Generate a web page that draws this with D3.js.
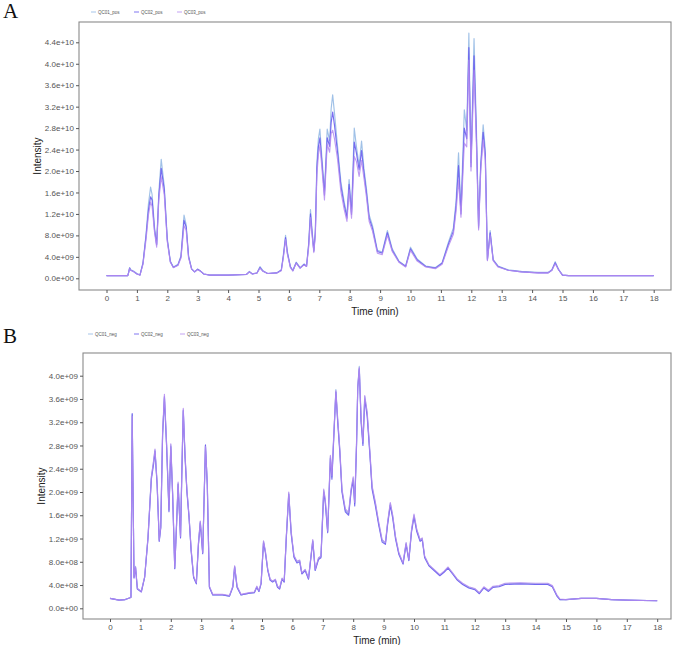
<!DOCTYPE html>
<html lang="en">
<head>
<meta charset="UTF-8">
<title>QC TIC chromatograms</title>
<script src="https://d3js.org/d3.v7.min.js"></script>
<style>
    body { margin: 0; background: #fff; }
</style>
</head>
<body>
<script>
var seriesNames = ['QC01', 'QC02', 'QC03'];
var colors = ['#8fb6e3', '#6153ee', '#b48bf0'];

// panel A, positive mode: time (min), intensity in units of 1e9
var timeA = [0, 0.7, 0.73, 0.76, 0.8, 0.9, 1.0, 1.1, 1.2, 1.3, 1.38, 1.45, 1.5, 1.58, 1.65, 1.72, 1.8, 1.9, 2.0, 2.1,
    2.2, 2.35, 2.45, 2.55, 2.62, 2.7, 2.8, 2.9, 3.0, 3.1, 3.2, 3.4, 4.0, 4.6, 4.7, 4.8, 4.95, 5.05, 5.15, 5.3,
    5.6, 5.75, 5.82, 5.89, 5.95, 6.05, 6.13, 6.24, 6.37, 6.5, 6.58, 6.65, 6.71, 6.77, 6.82, 6.87, 6.92, 6.97, 7.02, 7.08,
    7.17, 7.26, 7.34, 7.39, 7.44, 7.5, 7.6, 7.71, 7.82, 7.91, 7.98, 8.06, 8.15, 8.22, 8.31, 8.39, 8.47, 8.55, 8.64, 8.75,
    8.91, 9.07, 9.24, 9.4, 9.62, 9.84, 10.0, 10.22, 10.5, 10.82, 11.04, 11.25, 11.41, 11.5, 11.58, 11.66, 11.77, 11.85, 11.92, 11.99,
    12.09, 12.17, 12.24, 12.31, 12.39, 12.46, 12.53, 12.62, 12.72, 12.88, 13.21, 13.65, 14.2, 14.52, 14.65, 14.76, 14.87, 15.0, 15.2, 16,
    17, 18];
var posQC01 = [0.5, 0.5, 1.2, 2.0, 1.6, 1.3, 0.9, 0.6, 2.9, 8.2, 13.9, 17.0, 15.6, 9.5, 6.4, 16.0, 22.2, 17.2, 7.4, 3.2,
    2.1, 2.6, 4.2, 11.8, 10.0, 4.2, 1.8, 1.2, 1.7, 1.3, 0.8, 0.6, 0.6, 0.7, 1.3, 0.8, 1.0, 2.2, 1.4, 0.9,
    1.0, 1.6, 4.5, 8.0, 5.0, 2.2, 1.5, 3.0, 2.0, 2.7, 2.3, 6.5, 12.8, 8.5, 5.2, 9.0, 21.6, 26.0, 27.8, 23.0,
    16.2, 27.8, 25.6, 31.6, 34.2, 30.8, 24.6, 18.0, 14.2, 11.8, 18.4, 12.4, 28.0, 24.6, 21.0, 25.6, 20.4, 16.8, 11.8, 9.8,
    5.2, 4.9, 8.9, 5.5, 3.2, 2.3, 5.8, 3.6, 2.3, 2.0, 2.9, 6.8, 9.4, 14.5, 23.4, 12.6, 31.4, 27.6, 45.7, 21.6,
    44.7, 27.6, 9.8, 21.6, 28.6, 24.0, 3.6, 8.9, 3.5, 2.3, 1.6, 1.3, 1.1, 1.1, 1.6, 3.1, 1.7, 0.6, 0.5, 0.5,
    0.5, 0.5];
var posQC02 = [0.5, 0.5, 1.1, 1.9, 1.5, 1.2, 0.8, 0.6, 2.8, 7.8, 12.7, 15.2, 14.6, 9.0, 6.2, 15.2, 20.5, 16.5, 7.1, 3.1,
    2.0, 2.5, 4.0, 10.8, 9.6, 4.0, 1.7, 1.2, 1.7, 1.3, 0.8, 0.6, 0.6, 0.7, 1.2, 0.8, 1.0, 2.0, 1.3, 0.9,
    1.0, 1.5, 4.2, 7.6, 4.7, 2.1, 1.4, 2.9, 1.9, 2.6, 2.2, 6.2, 12.0, 8.0, 5.0, 8.5, 20.4, 24.5, 26.2, 22.0,
    15.5, 26.2, 24.6, 29.0, 31.0, 28.5, 23.5, 17.2, 13.6, 11.2, 17.5, 11.9, 25.4, 23.4, 20.2, 23.8, 19.6, 16.0, 11.2, 9.3,
    5.0, 4.7, 8.5, 5.2, 3.1, 2.2, 5.5, 3.4, 2.2, 1.9, 2.8, 6.4, 8.8, 13.5, 21.0, 12.0, 28.0, 26.0, 43.0, 20.8,
    41.5, 26.0, 9.4, 20.8, 27.2, 23.0, 3.4, 8.5, 3.4, 2.2, 1.5, 1.2, 1.0, 1.0, 1.5, 2.9, 1.6, 0.6, 0.5, 0.5,
    0.5, 0.5];
var posQC03 = [0.5, 0.5, 1.1, 1.8, 1.5, 1.2, 0.8, 0.6, 2.6, 7.2, 11.8, 14.2, 13.4, 8.6, 5.8, 14.5, 18.9, 15.6, 6.8, 3.0,
    2.0, 2.4, 3.8, 9.8, 9.0, 3.8, 1.7, 1.2, 1.6, 1.3, 0.8, 0.6, 0.6, 0.7, 1.2, 0.8, 1.0, 1.9, 1.3, 0.9,
    1.0, 1.4, 4.0, 7.2, 4.5, 2.0, 1.4, 2.8, 1.9, 2.5, 2.2, 5.8, 11.3, 7.6, 4.8, 8.0, 19.2, 23.0, 24.8, 21.0,
    14.6, 25.0, 23.5, 27.0, 27.6, 26.0, 22.2, 16.2, 12.8, 10.6, 16.5, 11.2, 22.7, 21.8, 19.0, 22.0, 18.6, 15.2, 10.6, 8.8,
    4.7, 4.4, 8.0, 5.0, 3.0, 2.1, 5.2, 3.2, 2.1, 1.8, 2.6, 6.0, 8.2, 12.5, 18.3, 11.4, 25.2, 24.5, 40.7, 20.0,
    38.8, 24.6, 9.0, 20.0, 25.8, 22.0, 3.3, 8.1, 3.3, 2.1, 1.5, 1.2, 1.0, 1.0, 1.5, 2.7, 1.6, 0.6, 0.5, 0.5,
    0.5, 0.5];

// panel B, negative mode: time (min), intensity in units of 1e9
var timeB = [0, 0.3, 0.5, 0.66, 0.69, 0.73, 0.79, 0.84, 0.9, 1.03, 1.14, 1.25, 1.36, 1.44, 1.48, 1.55, 1.62, 1.67, 1.73, 1.79,
    1.86, 1.94, 2.0, 2.06, 2.13, 2.19, 2.24, 2.32, 2.36, 2.41, 2.47, 2.53, 2.6, 2.67, 2.75, 2.84, 2.91, 2.97, 3.05, 3.14,
    3.2, 3.27, 3.38, 3.7, 3.93, 4.04, 4.1, 4.18, 4.31, 4.59, 4.75, 4.83, 4.9, 4.97, 5.05, 5.11, 5.19, 5.27, 5.35, 5.44,
    5.51, 5.58, 5.66, 5.73, 5.8, 5.88, 5.96, 6.05, 6.15, 6.24, 6.31, 6.42, 6.53, 6.67, 6.75, 6.86, 6.94, 7.03, 7.08, 7.16,
    7.25, 7.3, 7.36, 7.43, 7.49, 7.56, 7.63, 7.74, 7.85, 7.93, 8.0, 8.05, 8.11, 8.15, 8.2, 8.26, 8.32, 8.38, 8.46, 8.55,
    8.62, 8.73, 8.84, 8.95, 9.06, 9.13, 9.22, 9.3, 9.39, 9.5, 9.64, 9.74, 9.83, 9.92, 10.0, 10.09, 10.2, 10.27, 10.35, 10.49,
    10.66, 10.85, 10.99, 11.12, 11.27, 11.43, 11.6, 11.8, 12.0, 12.15, 12.3, 12.45, 12.6, 12.8, 13.0, 13.5, 14.0, 14.4, 14.55, 14.7,
    14.8, 15.0, 15.5, 16.0, 16.5, 17.0, 18.0];
var negQC01 = [0.17, 0.14, 0.15, 0.18, 0.19, 3.33, 0.54, 0.72, 0.34, 0.29, 0.54, 1.23, 2.26, 2.55, 2.72, 2.15, 1.17, 1.40, 3.00, 3.62,
    2.84, 1.69, 2.81, 1.98, 0.69, 1.46, 2.15, 1.23, 2.26, 3.39, 2.61, 2.03, 1.58, 1.00, 0.54, 0.43, 1.12, 1.49, 0.95, 2.80,
    2.15, 0.37, 0.23, 0.23, 0.21, 0.37, 0.72, 0.37, 0.23, 0.26, 0.27, 0.37, 0.29, 0.43, 1.15, 0.98, 0.66, 0.49, 0.46, 0.49,
    0.37, 0.34, 0.51, 0.46, 1.23, 1.98, 1.30, 0.90, 0.80, 0.82, 0.60, 0.66, 0.51, 1.17, 0.66, 0.86, 0.89, 2.03, 1.86, 1.32,
    2.61, 2.26, 2.95, 3.76, 3.24, 2.72, 2.03, 1.69, 1.63, 2.03, 2.24, 1.80, 2.84, 3.81, 4.16, 3.24, 2.84, 3.64, 3.35, 2.67,
    2.09, 1.80, 1.46, 1.17, 1.12, 1.46, 1.80, 1.58, 1.23, 0.95, 0.77, 1.12, 0.83, 1.35, 1.60, 1.35, 1.17, 1.20, 0.89, 0.74,
    0.66, 0.57, 0.63, 0.70, 0.60, 0.49, 0.42, 0.36, 0.33, 0.26, 0.36, 0.30, 0.37, 0.38, 0.42, 0.43, 0.42, 0.42, 0.38, 0.22,
    0.15, 0.15, 0.17, 0.17, 0.15, 0.14, 0.13];
var negQC02 = [0.17, 0.14, 0.15, 0.18, 0.19, 3.35, 0.52, 0.70, 0.33, 0.28, 0.53, 1.20, 2.22, 2.50, 2.70, 2.12, 1.15, 1.38, 2.98, 3.64,
    2.80, 1.66, 2.78, 1.95, 0.68, 1.44, 2.13, 1.21, 2.24, 3.41, 2.58, 2.00, 1.56, 0.98, 0.53, 0.42, 1.10, 1.47, 0.94, 2.81,
    2.12, 0.36, 0.23, 0.23, 0.21, 0.36, 0.71, 0.36, 0.23, 0.26, 0.27, 0.36, 0.29, 0.42, 1.13, 0.96, 0.65, 0.48, 0.45, 0.48,
    0.36, 0.33, 0.50, 0.45, 1.21, 1.96, 1.28, 0.88, 0.78, 0.80, 0.59, 0.65, 0.50, 1.15, 0.65, 0.84, 0.87, 2.00, 1.82, 1.30,
    2.58, 2.22, 2.92, 3.72, 3.20, 2.68, 2.00, 1.66, 1.60, 2.00, 2.20, 1.76, 2.80, 3.78, 4.12, 3.20, 2.80, 3.60, 3.30, 2.63,
    2.05, 1.76, 1.43, 1.14, 1.10, 1.43, 1.77, 1.55, 1.20, 0.93, 0.76, 1.10, 0.82, 1.32, 1.57, 1.32, 1.15, 1.18, 0.87, 0.73,
    0.65, 0.56, 0.62, 0.69, 0.59, 0.48, 0.41, 0.35, 0.32, 0.25, 0.35, 0.29, 0.36, 0.37, 0.41, 0.42, 0.41, 0.41, 0.37, 0.21,
    0.15, 0.15, 0.17, 0.17, 0.15, 0.14, 0.13];
var negQC03 = [0.17, 0.14, 0.15, 0.18, 0.19, 3.30, 0.53, 0.71, 0.34, 0.29, 0.54, 1.22, 2.25, 2.56, 2.74, 2.16, 1.17, 1.41, 3.03, 3.68,
    2.85, 1.70, 2.83, 1.99, 0.70, 1.47, 2.17, 1.24, 2.28, 3.44, 2.62, 2.04, 1.59, 1.01, 0.55, 0.44, 1.13, 1.50, 0.96, 2.78,
    2.16, 0.38, 0.24, 0.24, 0.22, 0.38, 0.73, 0.38, 0.24, 0.27, 0.28, 0.38, 0.30, 0.44, 1.16, 0.99, 0.67, 0.50, 0.47, 0.50,
    0.38, 0.35, 0.52, 0.47, 1.24, 2.00, 1.32, 0.91, 0.81, 0.83, 0.61, 0.67, 0.52, 1.18, 0.67, 0.87, 0.90, 2.05, 1.88, 1.33,
    2.63, 2.28, 2.97, 3.74, 3.26, 2.74, 2.05, 1.71, 1.65, 2.05, 2.26, 1.82, 2.86, 3.80, 4.14, 3.26, 2.86, 3.66, 3.37, 2.69,
    2.11, 1.82, 1.48, 1.18, 1.13, 1.47, 1.82, 1.60, 1.24, 0.96, 0.78, 1.13, 0.84, 1.36, 1.62, 1.36, 1.18, 1.21, 0.90, 0.75,
    0.67, 0.58, 0.64, 0.71, 0.61, 0.50, 0.43, 0.37, 0.34, 0.27, 0.37, 0.31, 0.38, 0.39, 0.43, 0.44, 0.43, 0.43, 0.39, 0.23,
    0.16, 0.15, 0.17, 0.17, 0.15, 0.14, 0.13];

var xTicks = [0, 1, 2, 3, 4, 5, 6, 7, 8, 9, 10, 11, 12, 13, 14, 15, 16, 17, 18];
var yTicksA = [0, 4, 8, 12, 16, 20, 24, 28, 32, 36, 40, 44];
var yTicksB = [0, 0.4, 0.8, 1.2, 1.6, 2.0, 2.4, 2.8, 3.2, 3.6, 4.0];

// 0 -> "0.0e+00", 4 (x1e9) -> "4.0e+09"
function sciLabel(v) {
    var val = v * 1e9;
    if (val === 0) return '0.0e+00';
    var exp = Math.floor(Math.log10(val) + 1e-9);
    var mant = val / Math.pow(10, exp);
    return mant.toFixed(1) + 'e+' + (exp < 10 ? '0' + exp : exp);
}

var svg = d3.select('body').append('svg')
    .attr('width', 685)
    .attr('height', 645)
    .style('font-family', '"Liberation Sans", Arial, sans-serif');

function drawPanel(p) {
    var g = svg.append('g');
    var x = d3.scaleLinear().domain([0, 18]).range([p.x0, p.x18]);
    var y = d3.scaleLinear().domain([0, p.yTicks[p.yTicks.length - 1]]).range([p.y0, p.yTop]);

    g.append('rect')
        .attr('x', p.left).attr('y', p.top)
        .attr('width', p.right - p.left).attr('height', p.bottom - p.top)
        .attr('fill', 'none').attr('stroke', '#8a8a8a').attr('stroke-width', 1.1);

    var line = d3.line()
        .x(function (d) { return x(d[0]); })
        .y(function (d) { return y(d[1]); });

    p.values.forEach(function (vals, i) {
        var pts = p.time.map(function (t, j) { return [t, vals[j]]; });
        g.append('path')
            .datum(pts)
            .attr('d', line)
            .attr('fill', 'none')
            .attr('stroke', colors[i])
            .attr('stroke-width', 1.15)
            .attr('stroke-opacity', 0.85)
            .attr('stroke-linejoin', 'round');
    });

    var xAxis = g.append('g')
        .attr('transform', 'translate(0,' + p.bottom + ')')
        .call(d3.axisBottom(x).tickValues(xTicks).tickSize(3).tickPadding(2).tickFormat(d3.format('d')));
    var yAxis = g.append('g')
        .attr('transform', 'translate(' + p.left + ',0)')
        .call(d3.axisLeft(y).tickValues(p.yTicks).tickSize(3).tickPadding(2).tickFormat(sciLabel));
    [xAxis, yAxis].forEach(function (a) {
        a.select('.domain').remove();
        a.selectAll('line').attr('stroke', '#555');
        a.selectAll('text').attr('fill', '#555').style('font-size', '8px')
            .style('font-family', '"Liberation Sans", Arial, sans-serif');
    });

    g.append('text')
        .attr('x', (p.left + p.right) / 2).attr('y', p.bottom + 25)
        .attr('text-anchor', 'middle')
        .style('font-size', '10px').attr('fill', '#222')
        .text('Time (min)');
    g.append('text')
        .attr('transform', 'translate(' + p.ylabX + ',' + (p.top + p.bottom) / 2 + ') rotate(-90)')
        .attr('text-anchor', 'middle')
        .style('font-size', '10px').attr('fill', '#222')
        .text('Intensity');

    g.append('text')
        .attr('x', 3).attr('y', p.letterY)
        .style('font-family', '"Liberation Serif", "Times New Roman", serif')
        .style('font-size', '21px').attr('fill', '#111')
        .text(p.letter);

    var legend = g.append('g');
    seriesNames.forEach(function (s, i) {
        var lx = p.legX + i * p.legStep;
        legend.append('line')
            .attr('x1', lx).attr('x2', lx + 5)
            .attr('y1', p.legY).attr('y2', p.legY)
            .attr('stroke', colors[i]).attr('stroke-width', 0.8);
        legend.append('text')
            .attr('x', lx + 7).attr('y', p.legY + 1.5)
            .style('font-size', '4.5px').attr('fill', '#555')
            .text(s + p.suffix);
    });
}

drawPanel({
    letter: 'A', letterY: 18, suffix: '_pos',
    left: 79, right: 671, top: 22, bottom: 290,
    x0: 106.5, x18: 653.7, y0: 278.3, yTop: 42.3,
    yTicks: yTicksA, ylabX: 41,
    time: timeA, values: [posQC01, posQC02, posQC03],
    legX: 91, legY: 12, legStep: 43
});

drawPanel({
    letter: 'B', letterY: 343, suffix: '_neg',
    left: 83, right: 671, top: 353, bottom: 619,
    x0: 110, x18: 657.2, y0: 608.3, yTop: 375.7,
    yTicks: yTicksB, ylabX: 44.5,
    time: timeB, values: [negQC01, negQC02, negQC03],
    legX: 88, legStep: 46, legY: 334
});
</script>
</body>
</html>
